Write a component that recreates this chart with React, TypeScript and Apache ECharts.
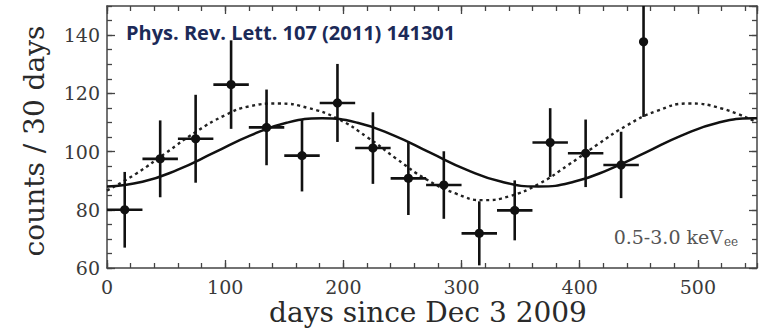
import React, { useEffect, useRef } from "react";
import * as echarts from "echarts";

// Measured data (30-day bins)
const days = [15, 45, 75, 105, 135, 165, 195, 225, 255, 285, 315, 345, 375, 405, 435, 454];
const counts = [80, 97.5, 104.4, 123, 108.3, 98.6, 116.7, 101.2, 90.8, 88.5, 71.9, 79.8, 103.1, 99.4, 95.4, 137.7];
const countErr = [13, 13.2, 15.1, 15.2, 13, 12.3, 13.4, 12.3, 12.6, 11.6, 11, 10.3, 11.8, 11.6, 11.4, 25.8];
const dayErr = [15, 15, 15, 15, 15, 15, 15, 15, 15, 15, 15, 15, 15, 15, 15, 0];

// Fit curves
const solidDays = [0, 30, 60, 91, 121, 152, 182, 212, 243, 273, 304, 334, 365, 395, 425, 456, 486, 517, 547, 550];
const fitSolid = [88.0, 89.6, 93.8, 99.7, 105.5, 109.9, 111.4, 109.9, 105.5, 99.7, 93.8, 89.6, 88.0, 89.6, 93.9, 99.7, 105.5, 109.9, 111.4, 111.4];
const dottedDays = [0, 25, 50, 75, 100, 120, 145, 170, 195, 220, 245, 270, 295, 318, 340, 365, 390, 415, 440, 465, 492, 520, 550];
const fitDotted = [86.6, 92.5, 99.6, 106.7, 112.5, 115.5, 116.5, 115.0, 111.3, 105.0, 97.5, 90.5, 85.6, 83.3, 84.6, 88.8, 95.3, 102.4, 109.0, 113.9, 116.5, 114.8, 110.0];

const xMajorTicks = [0, 100, 200, 300, 400, 500];
const yMajorTicks = [60, 80, 100, 120, 140];

const SERIF = '"DejaVu Serif", "Liberation Serif", serif';
const FRAME = "#444";

export default function App() {
  const ref = useRef<HTMLDivElement>(null);
  useEffect(() => {
    if (!ref.current) return;
    const chart = echarts.init(ref.current, undefined, { renderer: "svg" });

    const tickStyle = { color: FRAME, width: 1.3 };
    const xAx = (position: string, major: boolean, showLine: boolean, labels: boolean) => ({
      type: "value",
      position,
      min: 0,
      max: 550,
      interval: major ? 100 : 20,
      axisLine: { show: showLine, onZero: false, lineStyle: { color: FRAME, width: 1.5 } },
      axisTick: { show: true, inside: true, length: major ? 8 : 5, lineStyle: tickStyle },
      axisLabel: {
        show: labels,
        showMaxLabel: false,
        margin: 9,
        fontFamily: SERIF,
        fontSize: 19,
        color: "#3a3a3a",
        formatter: (v: number) => (xMajorTicks.includes(v) ? String(v) : ""),
      },
      splitLine: { show: false },
    });
    const yAx = (position: string, major: boolean, showLine: boolean, labels: boolean) => ({
      type: "value",
      position,
      min: 60,
      max: 150,
      interval: major ? 20 : 5,
      axisLine: { show: showLine, onZero: false, lineStyle: { color: FRAME, width: 1.5 } },
      axisTick: { show: true, inside: true, length: major ? 8 : 5, lineStyle: tickStyle },
      axisLabel: {
        show: labels,
        showMaxLabel: false,
        margin: 7,
        fontFamily: SERIF,
        fontSize: 19,
        color: "#3a3a3a",
        formatter: (v: number) => (yMajorTicks.includes(v) ? String(v) : ""),
      },
      splitLine: { show: false },
    });

    const pts = days.map((d, i) => [d, counts[i], dayErr[i], countErr[i]]);

    chart.setOption({
      animation: false,
      grid: { left: 107, right: 6, top: 6, bottom: 62, containLabel: false },
      xAxis: [
        xAx("bottom", true, true, true),
        xAx("bottom", false, false, false),
        xAx("top", true, true, false),
        xAx("top", false, false, false),
      ],
      yAxis: [
        yAx("left", true, true, true),
        yAx("left", false, false, false),
        yAx("right", true, true, false),
        yAx("right", false, false, false),
      ],
      series: [
        {
          type: "line",
          xAxisIndex: 0,
          yAxisIndex: 0,
          data: dottedDays.map((d, i) => [d, fitDotted[i]]),
          smooth: true,
          showSymbol: false,
          symbol: "none",
          clip: true,
          lineStyle: { color: "#222", width: 2.4, type: [3, 3.5] },
          z: 2,
        },
        {
          type: "line",
          xAxisIndex: 0,
          yAxisIndex: 0,
          data: solidDays.map((d, i) => [d, fitSolid[i]]),
          smooth: true,
          showSymbol: false,
          symbol: "none",
          clip: true,
          lineStyle: { color: "#111", width: 2.5 },
          z: 3,
        },
        {
          type: "custom",
          xAxisIndex: 0,
          yAxisIndex: 0,
          data: pts,
          z: 4,
          renderItem: (params: any, api: any) => {
            const x = api.value(0);
            const y = api.value(1);
            const ex = api.value(2);
            const ey = api.value(3);
            const cs = params.coordSys;
            const clampY = (v: number) => Math.max(cs.y, Math.min(cs.y + cs.height, v));
            const c = api.coord([x, y]);
            const l = api.coord([x - ex, y]);
            const r = api.coord([x + ex, y]);
            const t = api.coord([x, y + ey]);
            const b = api.coord([x, y - ey]);
            const style = { stroke: "#111", lineWidth: 2.6 };
            const children: any[] = [
              { type: "line", shape: { x1: c[0], y1: clampY(t[1]), x2: c[0], y2: clampY(b[1]) }, style },
            ];
            if (ex > 0) {
              children.push({ type: "line", shape: { x1: l[0], y1: c[1], x2: r[0], y2: c[1] }, style });
            }
            children.push({ type: "circle", shape: { cx: c[0], cy: c[1], r: 4.6 }, style: { fill: "#111" } });
            return { type: "group", children };
          },
        },
      ],
      graphic: [
        {
          type: "text",
          x: 126,
          y: 32,
          style: {
            text: "Phys. Rev. Lett. 107 (2011) 141301",
            align: "left",
            verticalAlign: "middle",
            fontFamily: '"Open Sans", "Noto Sans", sans-serif',
            fontWeight: "bold",
            fontSize: 20,
            fill: "#1c2a58",
          },
        },
        {
          type: "text",
          x: 34,
          y: 141,
          rotation: Math.PI / 2,
          style: {
            text: "counts / 30 days",
            align: "center",
            verticalAlign: "middle",
            fontFamily: SERIF,
            fontSize: 28,
            fill: "#2a2a2a",
          },
        },
        {
          type: "text",
          x: 428,
          y: 312,
          style: {
            text: "days since Dec 3 2009",
            align: "center",
            verticalAlign: "middle",
            fontFamily: SERIF,
            fontSize: 28,
            fill: "#2a2a2a",
          },
        },
        {
          type: "text",
          x: 723,
          y: 237,
          style: {
            text: "0.5-3.0 keV",
            align: "right",
            verticalAlign: "middle",
            fontFamily: SERIF,
            fontSize: 19,
            fill: "#555",
          },
        },
        {
          type: "text",
          x: 724,
          y: 242,
          style: {
            text: "ee",
            align: "left",
            verticalAlign: "middle",
            fontFamily: SERIF,
            fontSize: 12,
            fill: "#555",
          },
        },
      ],
    });
    return () => chart.dispose();
  }, []);

  return <div ref={ref} style={{ width: 763, height: 330, position: "absolute", left: 0, top: 0 }} />;
}
